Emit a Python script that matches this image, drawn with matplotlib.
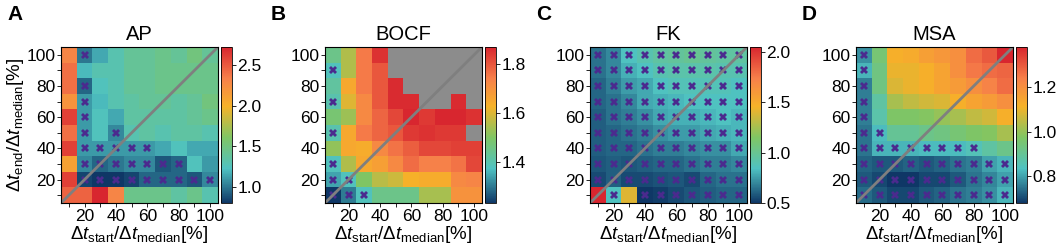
import numpy as np
import matplotlib
matplotlib.use("Agg")
import matplotlib.pyplot as plt
from matplotlib.colors import LinearSegmentedColormap

plt.rcParams['font.family'] = ['Liberation Sans', 'DejaVu Sans']
plt.rcParams['mathtext.fontset'] = 'custom'
plt.rcParams['mathtext.rm'] = 'Liberation Sans'
plt.rcParams['mathtext.it'] = 'Liberation Sans:italic'
plt.rcParams['mathtext.bf'] = 'Liberation Sans:bold'

# grid: x = start window, y = end window (rows listed from 100 down to 10)
steps = [10, 20, 30, 40, 50, 60, 70, 80, 90, 100]
nan = np.nan

ap_vals = [
    [2.30, 1.00, 1.15, 1.30, 1.40, 1.40, 1.45, 1.40, 1.50, 1.40],
    [2.40, 1.20, 1.30, 1.30, 1.40, 1.40, 1.45, 1.45, 1.45, 1.45],
    [2.40, 0.95, 1.25, 1.30, 1.40, 1.40, 1.45, 1.45, 1.45, 1.45],
    [2.20, 1.10, 1.20, 1.30, 1.35, 1.40, 1.40, 1.35, 1.40, 1.50],
    [2.60, 1.10, 1.25, 1.15, 1.35, 1.35, 1.35, 1.35, 1.40, 1.45],
    [2.40, 1.10, 1.25, 1.05, 1.30, 1.35, 1.30, 1.35, 1.35, 1.30],
    [2.60, 1.10, 1.10, 1.10, 1.10, 1.10, 1.15, 1.25, 1.15, 1.15],
    [2.10, 1.05, 0.95, 1.00, 1.05, 1.05, 0.90, 0.95, 1.25, 1.10],
    [2.60, 0.85, 0.80, 0.80, 0.85, 0.95, 0.95, 0.95, 0.90, 1.05],
    [2.45, 2.45, 2.72, 2.30, 1.45, 1.45, 1.45, 1.35, 1.45, 1.30],
]
ap_sig = [
    [0, 1, 0, 0, 0, 0, 0, 0, 0, 0],
    [0, 0, 0, 0, 0, 0, 0, 0, 0, 0],
    [0, 1, 0, 0, 0, 0, 0, 0, 0, 0],
    [0, 1, 0, 0, 0, 0, 0, 0, 0, 0],
    [0, 1, 0, 0, 0, 0, 0, 0, 0, 0],
    [0, 1, 0, 1, 0, 0, 0, 0, 0, 0],
    [0, 1, 1, 1, 1, 1, 0, 0, 0, 0],
    [0, 1, 1, 1, 1, 1, 1, 1, 0, 0],
    [0, 1, 1, 1, 1, 1, 1, 1, 1, 1],
    [0, 0, 0, 0, 0, 0, 0, 0, 0, 0],
]

bocf_vals = [
    [1.45, 1.55, 1.75, 1.85, nan, nan, nan, nan, nan, nan],
    [1.38, 1.55, 1.75, 1.80, nan, nan, nan, nan, nan, nan],
    [1.42, 1.65, 1.75, 1.80, 1.86, nan, nan, nan, nan, nan],
    [1.40, 1.60, 1.72, 1.80, 1.86, 1.86, nan, nan, 1.86, nan],
    [1.48, 1.53, 1.72, 1.78, 1.82, 1.87, 1.84, 1.87, 1.87, 1.85],
    [1.40, 1.65, 1.75, 1.78, 1.80, 1.84, 1.85, 1.84, 1.84, nan],
    [1.52, 1.65, 1.64, 1.72, 1.76, 1.79, 1.82, 1.82, 1.83, 1.83],
    [1.38, 1.55, 1.65, 1.67, 1.72, 1.77, 1.74, 1.74, 1.76, 1.82],
    [1.34, 1.38, 1.50, 1.56, 1.58, 1.63, 1.64, 1.64, 1.72, 1.73],
    [1.23, 1.30, 1.38, 1.45, 1.45, 1.45, 1.54, 1.54, 1.70, 1.70],
]
bocf_sig = [
    [0, 0, 0, 0, 0, 0, 0, 0, 0, 0],
    [1, 0, 0, 0, 0, 0, 0, 0, 0, 0],
    [0, 0, 0, 0, 0, 0, 0, 0, 0, 0],
    [1, 0, 0, 0, 0, 0, 0, 0, 0, 0],
    [0, 0, 0, 0, 0, 0, 0, 0, 0, 0],
    [1, 0, 0, 0, 0, 0, 0, 0, 0, 0],
    [0, 0, 0, 0, 0, 0, 0, 0, 0, 0],
    [1, 0, 0, 0, 0, 0, 0, 0, 0, 0],
    [1, 1, 0, 0, 0, 0, 0, 0, 0, 0],
    [1, 1, 1, 0, 0, 0, 0, 0, 0, 0],
]

fk_vals = [
    [0.65, 0.70, 0.85, 0.90, 0.95, 0.97, 1.00, 0.97, 0.95, 0.95],
    [0.65, 0.70, 0.80, 0.85, 0.90, 0.92, 0.92, 0.92, 0.90, 0.90],
    [0.62, 0.68, 0.75, 0.78, 0.85, 0.88, 0.88, 0.88, 0.88, 0.85],
    [0.62, 0.65, 0.70, 0.78, 0.80, 0.82, 0.85, 0.85, 0.85, 0.85],
    [0.60, 0.65, 0.68, 0.72, 0.78, 0.80, 0.80, 0.82, 0.85, 0.82],
    [0.60, 0.62, 0.65, 0.68, 0.72, 0.75, 0.75, 0.78, 0.80, 0.82],
    [0.60, 0.62, 0.62, 0.65, 0.68, 0.68, 0.70, 0.72, 0.72, 0.78],
    [0.58, 0.60, 0.58, 0.60, 0.62, 0.62, 0.65, 0.68, 0.68, 0.70],
    [0.55, 0.60, 0.55, 0.55, 0.57, 0.58, 0.55, 0.62, 0.65, 0.65],
    [2.05, 0.85, 1.40, 0.50, 0.52, 0.55, 0.58, 0.60, 0.62, 0.62],
]
fk_sig = [[1] * 10 for _ in range(9)] + [[0, 1, 0, 1, 1, 1, 1, 1, 1, 1]]

msa_vals = [
    [0.78, 0.95, 1.12, 1.13, 1.16, 1.18, 1.20, 1.27, 1.30, 1.38],
    [0.82, 0.93, 1.10, 1.10, 1.12, 1.15, 1.20, 1.25, 1.27, 1.28],
    [0.76, 0.93, 1.08, 1.10, 1.12, 1.15, 1.17, 1.20, 1.23, 1.27],
    [0.76, 0.88, 1.02, 1.05, 1.07, 1.08, 1.12, 1.15, 1.17, 1.20],
    [0.76, 0.87, 0.97, 0.97, 0.98, 1.00, 1.02, 1.05, 1.07, 1.12],
    [0.75, 0.83, 0.90, 0.90, 0.92, 0.93, 0.95, 0.97, 0.98, 1.02],
    [0.75, 0.82, 0.82, 0.82, 0.83, 0.83, 0.83, 0.85, 0.88, 0.92],
    [0.73, 0.72, 0.72, 0.73, 0.72, 0.73, 0.75, 0.76, 0.80, 0.82],
    [0.72, 0.70, 0.68, 0.68, 0.70, 0.70, 0.72, 0.75, 0.77, 0.80],
    [0.74, 0.72, 0.70, 0.70, 0.72, 0.73, 0.75, 0.76, 0.78, 0.82],
]
msa_sig = [
    [1, 0, 0, 0, 0, 0, 0, 0, 0, 0],
    [1, 0, 0, 0, 0, 0, 0, 0, 0, 0],
    [1, 0, 0, 0, 0, 0, 0, 0, 0, 0],
    [1, 0, 0, 0, 0, 0, 0, 0, 0, 0],
    [1, 0, 0, 0, 0, 0, 0, 0, 0, 0],
    [1, 1, 0, 0, 0, 0, 0, 0, 0, 0],
    [1, 1, 1, 1, 1, 1, 1, 1, 0, 0],
    [1, 1, 1, 1, 1, 1, 1, 1, 1, 1],
    [1, 1, 1, 1, 1, 1, 1, 1, 1, 1],
    [1, 1, 1, 1, 1, 1, 1, 1, 1, 1],
]

panels = [
    ("A", "AP", ap_vals, ap_sig, [1.0, 1.5, 2.0, 2.5]),
    ("B", "BOCF", bocf_vals, bocf_sig, [1.4, 1.6, 1.8]),
    ("C", "FK", fk_vals, fk_sig, [0.5, 1.0, 1.5, 2.0]),
    ("D", "MSA", msa_vals, msa_sig, [0.8, 1.0, 1.2]),
]

cmap = LinearSegmentedColormap.from_list("custom", [
    (0.00, "#0f3766"),
    (0.22, "#4fc2c2"),
    (0.42, "#80c664"),
    (0.62, "#f6b229"),
    (0.80, "#f7804a"),
    (1.00, "#d8262f"),
])
cmap.set_bad("#8c8c8c")

W, H = 1059, 250
fig = plt.figure(figsize=(W / 100, H / 100), dpi=100)

lefts = [61, 325, 590, 856]
ax_w, ax_top, ax_bot = 157, 47, 203

for i, (letter, name, vals, sig, cticks) in enumerate(panels):
    left = lefts[i]
    ax = fig.add_axes([left / W, (H - ax_bot) / H, ax_w / W, (ax_bot - ax_top) / H])
    cax = fig.add_axes([(left + 160) / W, (H - ax_bot) / H, 11 / W, (ax_bot - ax_top) / H])

    data = np.array(vals, dtype=float)
    im = ax.imshow(data, cmap=cmap, origin="upper", extent=(5, 105, 5, 105),
                   aspect="auto", interpolation="nearest")

    mask = np.array(sig, dtype=bool)
    rows, cols = np.where(mask)
    xs = np.array(steps)[cols]
    ys = np.array(steps[::-1])[rows]
    ax.plot(xs, ys, "X", color="#4b2a8e", ms=6, mew=0, ls="none")

    ax.plot([5, 105], [5, 105], color="#7f7f7f", lw=2)
    ax.set_xlim(5, 105)
    ax.set_ylim(5, 105)

    labels = [str(s) if s % 20 == 0 else "" for s in steps]
    ax.set_xticks(steps)
    ax.set_xticklabels(labels, fontsize=12.5)
    ax.set_yticks(steps)
    ax.set_yticklabels(labels, fontsize=12.5)
    ax.tick_params(length=3, width=0.6, pad=1)

    ax.set_title(name, fontsize=14.5, pad=5)
    ax.set_xlabel(r"$\Delta t_\mathrm{start}/\Delta t_\mathrm{median}$[%]", fontsize=13.5, labelpad=0)
    if i == 0:
        ax.set_ylabel(r"$\Delta t_\mathrm{end}/\Delta t_\mathrm{median}$[%]", fontsize=13.5, labelpad=0)

    cb = fig.colorbar(im, cax=cax)
    cb.set_ticks(cticks)
    cb.ax.tick_params(labelsize=12.5, length=3, width=0.6, pad=1)
    cb.outline.set_linewidth(0.6)

    fig.text((left - 54) / W, 1 - 5 / H, letter, fontsize=15, fontweight="bold", va="top", ha="left")

fig.savefig("out.png", dpi=100)
